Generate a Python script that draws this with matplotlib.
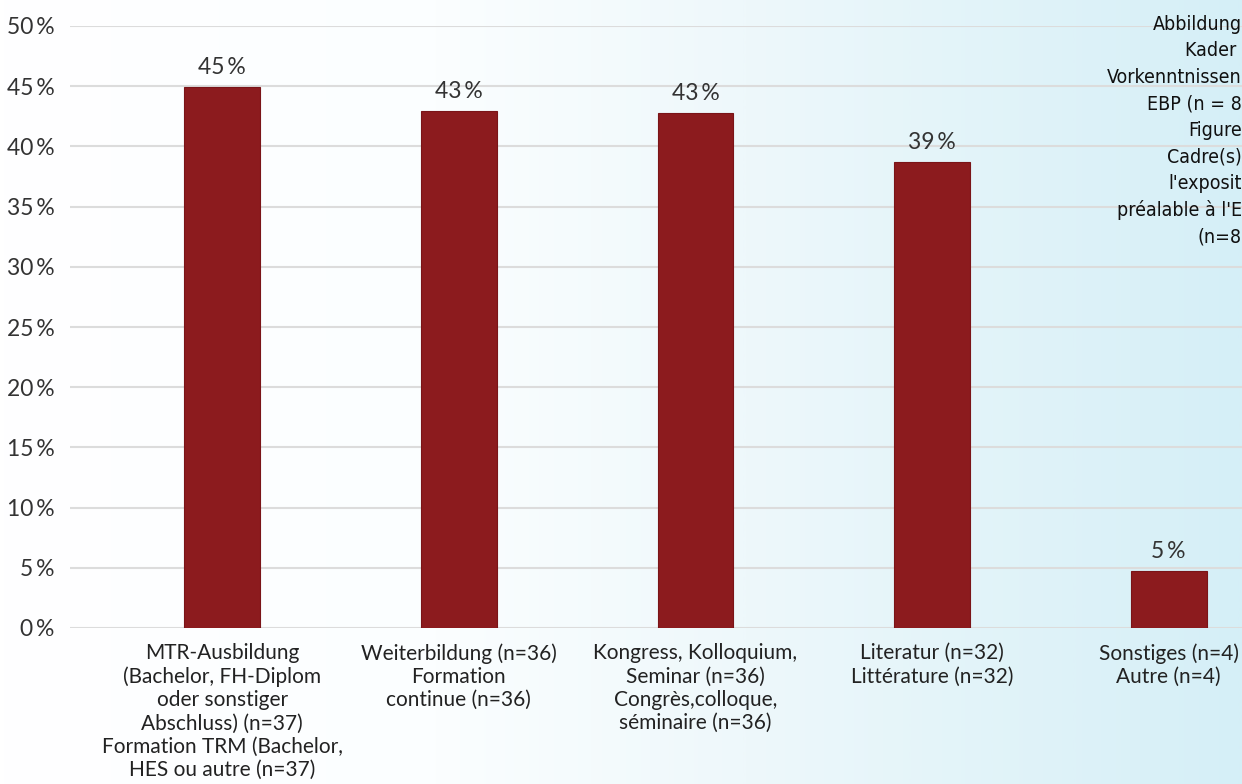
import matplotlib.pyplot as plt
import numpy as np
from matplotlib.colors import LinearSegmentedColormap

plt.rcParams['font.family'] = ['Lato', 'DejaVu Sans']

# data
categories = [
    "MTR-Ausbildung\n(Bachelor, FH-Diplom\noder sonstiger\nAbschluss) (n=37)\nFormation TRM (Bachelor,\nHES ou autre (n=37)",
    "Weiterbildung (n=36)\nFormation\ncontinue (n=36)",
    "Kongress, Kolloquium,\nSeminar (n=36)\nCongrès,colloque,\nséminaire (n=36)",
    "Literatur (n=32)\nLittérature (n=32)",
    "Sonstiges (n=4)\nAutre (n=4)",
]
values = [44.9, 42.9, 42.8, 38.7, 4.7]
value_labels = ["45\u2009%", "43\u2009%", "43\u2009%", "39\u2009%", "5\u2009%"]
yticks = [0, 5, 10, 15, 20, 25, 30, 35, 40, 45, 50]
ytick_labels = [f"{t}\u2009%" for t in yticks]
side_lines = ["Abbildung", "Kader ", "Vorkenntnissen", "EBP (n = 8", "Figure",
              "Cadre(s)", "l'exposit", "préalable à l'E", "(n=8"]

fig = plt.figure(figsize=(12.42, 7.84), dpi=100)

# background: white fading to light cyan on the right
bg = fig.add_axes([0, 0, 1, 1], zorder=-1)
grad = np.linspace(0, 1, 512)
cmap = LinearSegmentedColormap.from_list("bg", [(0, "#ffffff"), (0.35, "#fbfeff"),
                                                (0.6, "#eef8fb"), (1, "#d5eff7")])
bg.imshow(grad[np.newaxis, :], aspect='auto', cmap=cmap, extent=[0, 1, 0, 1])
bg.axis('off')

ax = fig.add_axes([70 / 1242, 156 / 784, 1 - 70 / 1242, 602 / 784])
ax.patch.set_alpha(0)
x = np.arange(len(categories))
ax.bar(x, values, width=0.32, color="#8c1b1e", edgecolor="#7a1418", linewidth=0.8, zorder=3)

for xi, v, lab in zip(x, values, value_labels):
    ax.text(xi, v + 0.75, lab, ha='center', va='bottom', fontsize=16.5, color="#333333")

ax.set_xlim(-0.643, 4.31)
ax.set_ylim(0, 50)
ax.set_yticks(yticks)
ax.set_yticklabels(ytick_labels, fontsize=16.5, color="#333333")
ax.set_xticks(x)
ax.set_xticklabels(categories, fontsize=15, color="#222222", linespacing=1.2)
ax.tick_params(axis='both', length=0)
ax.tick_params(axis='y', pad=11)
ax.tick_params(axis='x', pad=11)
ax.yaxis.grid(True, color="#dcdcdc", linewidth=1.5, zorder=0)
for s in ax.spines.values():
    s.set_visible(False)

# caption cut off at the right edge
for i, line in enumerate(side_lines):
    fig.text(1.0, 1 - (24 + i * 26.6) / 784, line, ha='right', va='center',
             fontsize=14, family=['DejaVu Sans'], fontstretch='condensed',
             color="#111111")

fig.savefig("out.png", dpi=100)
